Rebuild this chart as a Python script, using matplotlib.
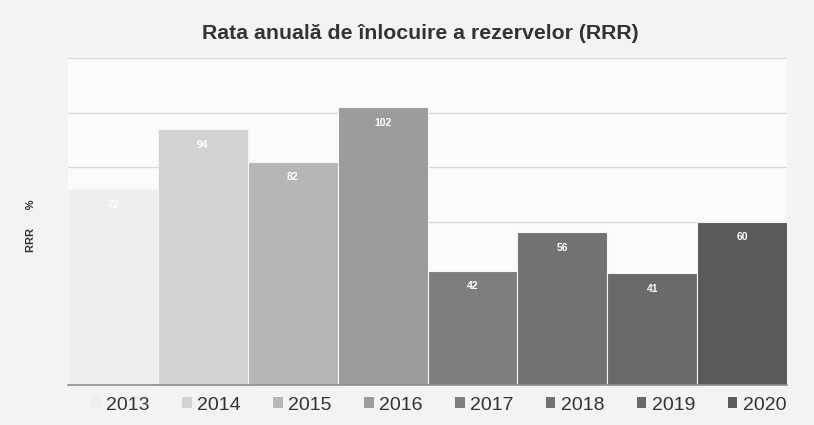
import matplotlib.pyplot as plt
from matplotlib.patches import Patch

years = ['2013', '2014', '2015', '2016', '2017', '2018', '2019', '2020']
rrr = [72, 94, 82, 102, 42, 56, 41, 60]
colors = ['#eeeeee', '#d2d2d2', '#b6b6b6', '#9c9c9c', '#7e7e7e', '#727272', '#6a6a6a', '#5a5a5a']

plt.rcParams['font.family'] = ['Liberation Sans', 'DejaVu Sans']

fig = plt.figure(figsize=(8.14, 4.25), dpi=100, facecolor='#f3f3f3')
ax = fig.add_axes([0.0835, 0.094, 0.8835, 0.7695])
ax.set_facecolor('#fbfbfb')

x = list(range(len(years)))
bars = ax.bar(x, rrr, width=1.0, color=colors, edgecolor='#f5f5f5', linewidth=0.8, zorder=2)

# etichete albe in interiorul barelor
ax.bar_label(bars, labels=[str(v) for v in rrr], padding=-15, color='white',
             fontsize=7.5, fontweight='bold')

ax.set_xlim(-0.5, 7.5)
ax.set_ylim(0, 120)
ax.set_yticks([0, 20, 40, 60, 80, 100, 120])
ax.yaxis.grid(True, color='#d9d9d9', linewidth=1, zorder=0)
ax.set_xticks([])
ax.tick_params(axis='y', length=0, labelleft=False)
for s in ['top', 'right', 'left']:
    ax.spines[s].set_visible(False)
ax.spines['bottom'].set_color('#8c8c8c')
ax.spines['bottom'].set_linewidth(1.2)

fig.text(0.516, 0.922, 'Rata anuală de înlocuire a rezervelor (RRR)', ha='center', va='center',
         fontsize=15.3, fontweight='bold', color='#333333')
fig.text(0.038, 0.47, 'RRR      %', rotation=90, ha='center', va='center',
         fontsize=8, fontweight='bold', color='#333333')

handles = [Patch(facecolor=c, edgecolor='none') for c in colors]
fig.legend(handles, years, loc='center', bbox_to_anchor=(0.539, 0.047), ncol=8,
           frameon=False, fontsize=14, handlelength=0.5, handleheight=0.5,
           handletextpad=0.3, columnspacing=1.64, labelcolor='#333333')

plt.savefig('out.png', dpi=100, facecolor=fig.get_facecolor())
